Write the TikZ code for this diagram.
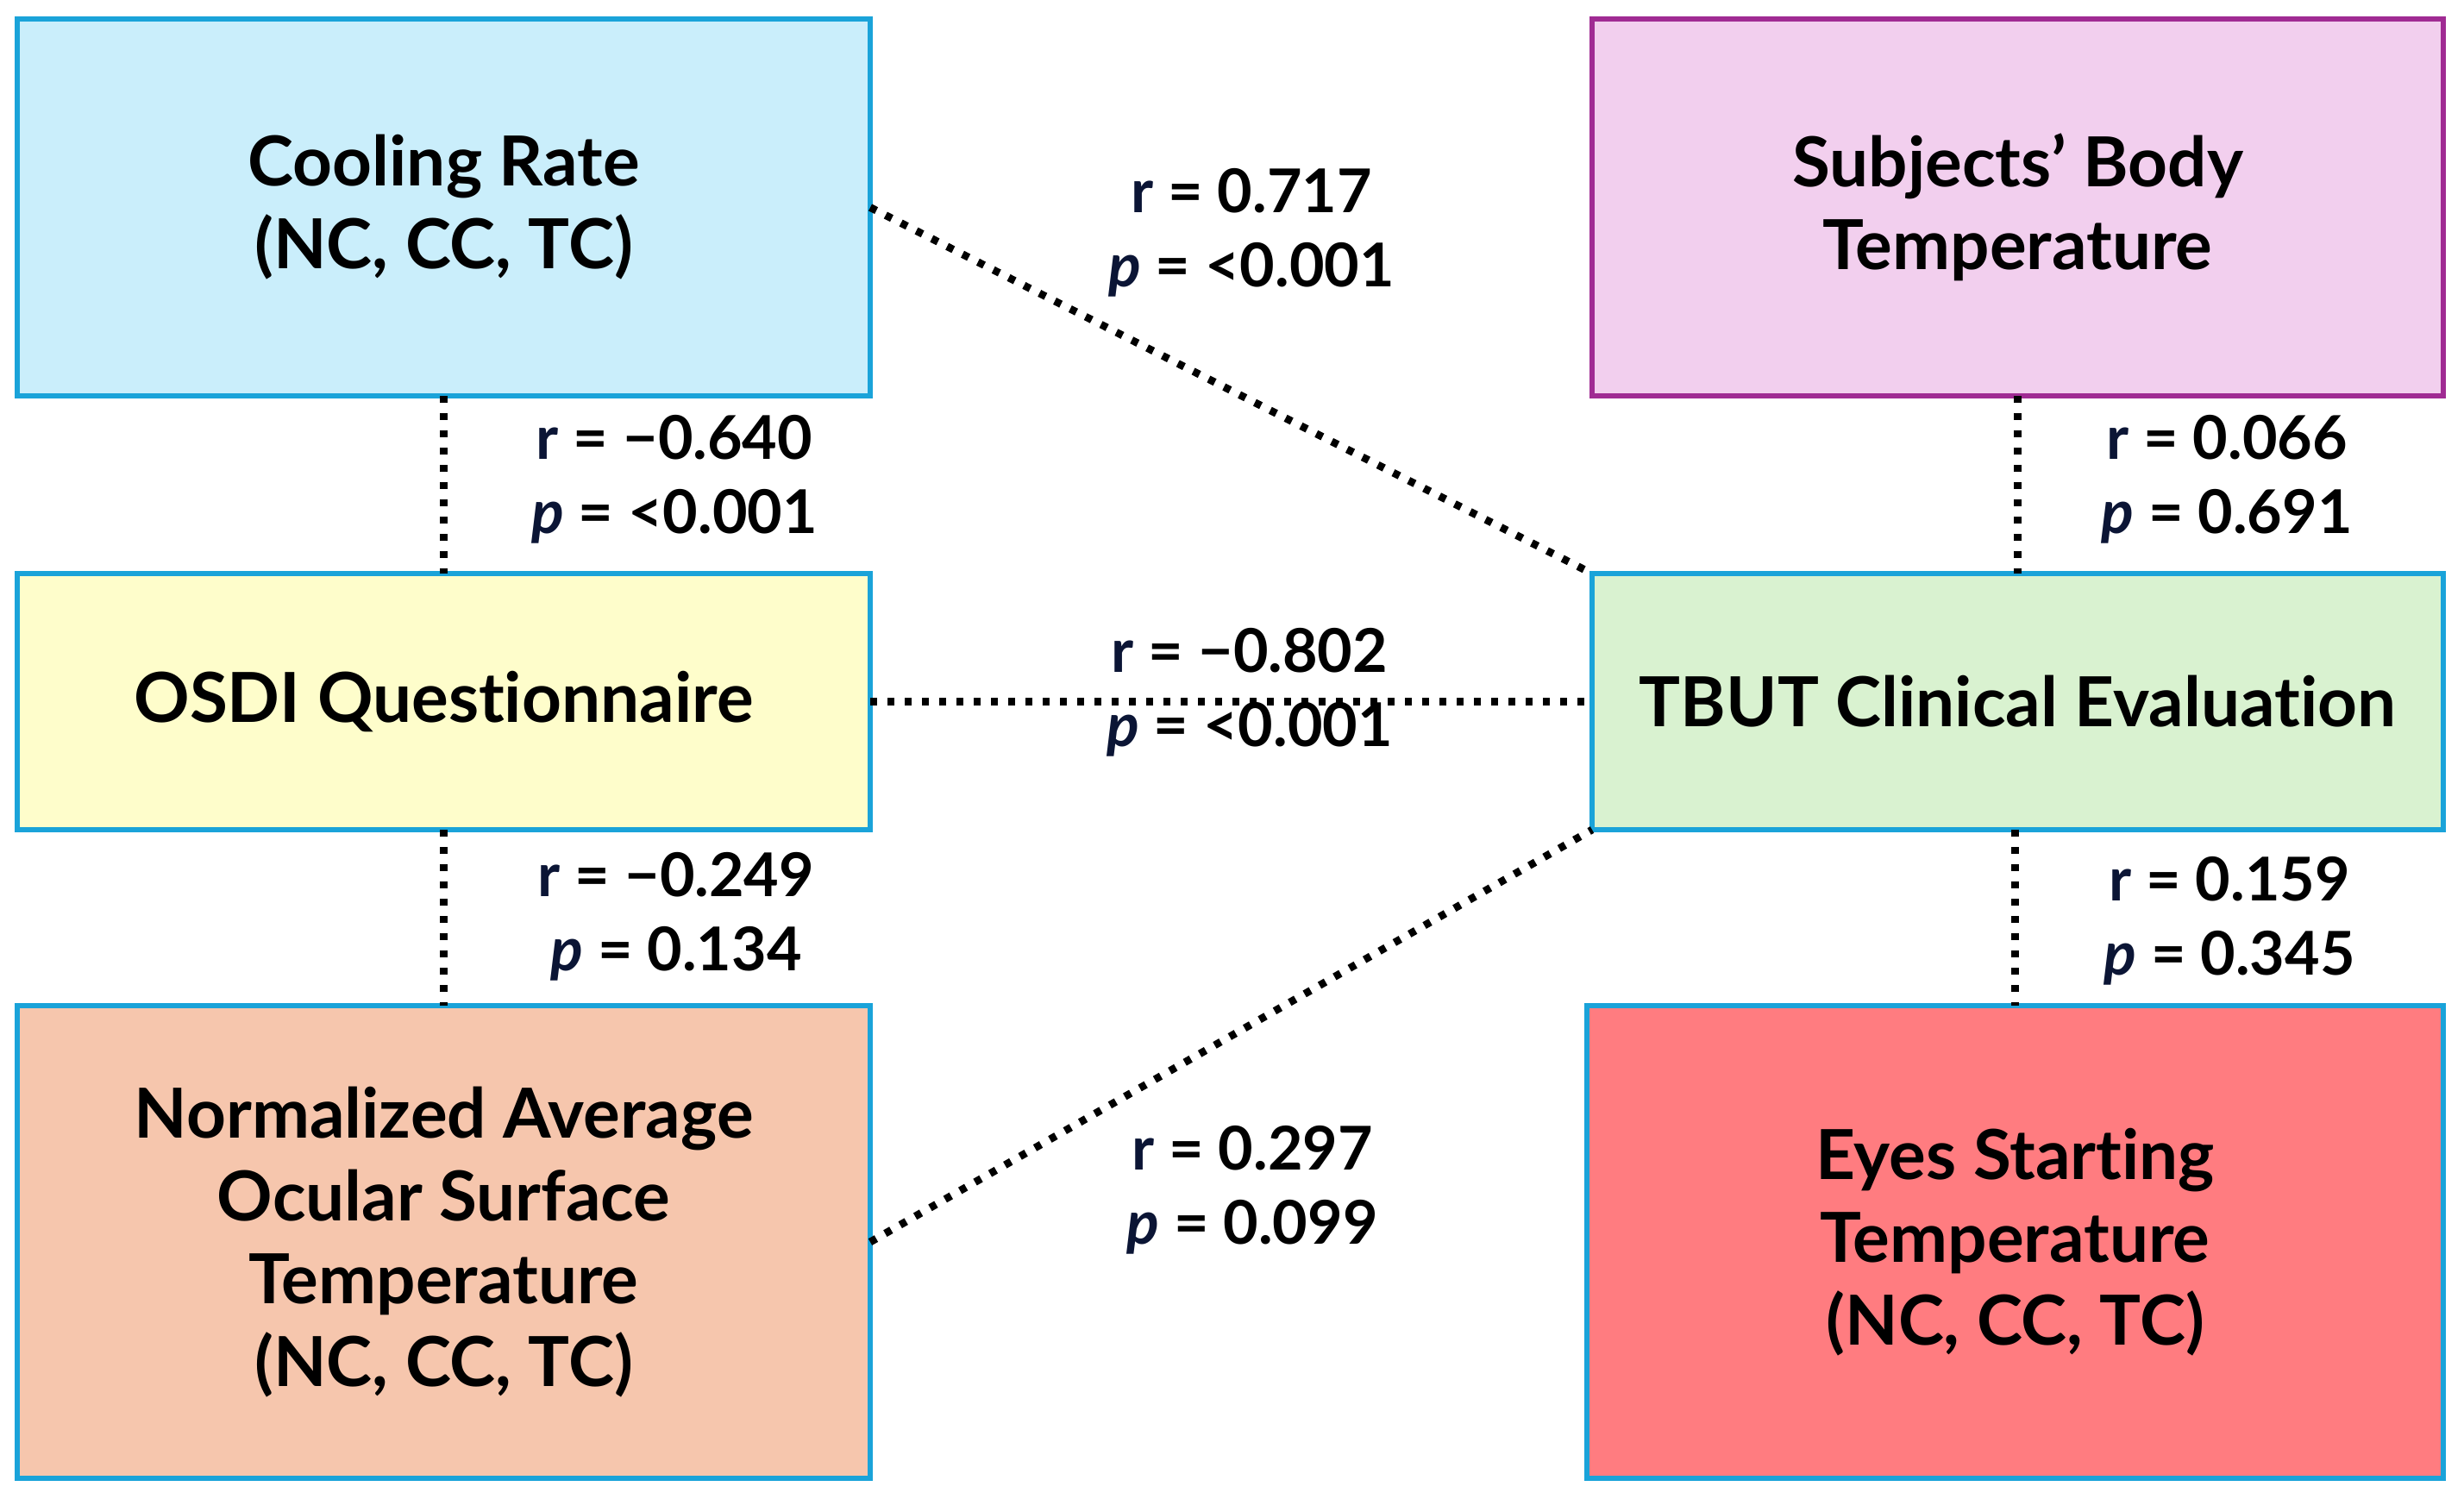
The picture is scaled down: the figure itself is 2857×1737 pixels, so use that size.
\documentclass[tikz,border=0pt]{standalone}
\usepackage{fontspec}
\setmainfont{Lato}[Ligatures=NoCommon]
\definecolor{bblue}{HTML}{1AA3D9}
\definecolor{bpurple}{HTML}{A02B93}
\definecolor{fcool}{HTML}{CAEEFB}
\definecolor{fsubj}{HTML}{F2CFEE}
\definecolor{fosdi}{HTML}{FEFDCB}
\definecolor{ftbut}{HTML}{D9F2D0}
\definecolor{fnorm}{HTML}{F6C6AD}
\definecolor{feyes}{HTML}{FF7C80}
\definecolor{navy}{HTML}{0B1535}
\newcommand{\rr}{{\color{navy}r}}
\newcommand{\pp}{{\color{navy}\itshape p}}
\tikzset{
  box/.style={draw=bblue, line width=1.6pt, rectangle, inner sep=0pt, outer sep=0pt,
    align=center, font=\fontsize{20}{24}\selectfont\bfseries},
  lab/.style={align=center, inner sep=0pt, font=\fontsize{17.5}{21.4}\selectfont\bfseries},
  conn/.style={line width=2.2pt, dash pattern=on 2pt off 3pt, black}
}
\begin{document}
\begin{tikzpicture}[x=0.25pt,y=-0.25pt]
\useasboundingbox (0,0) rectangle (2857,1737);
\node[box, fill=fcool, minimum width=247.25pt, minimum height=109.25pt] (cool) at (514.5,240.5) {Cooling Rate\\(NC, CC, TC)};
\node[box, fill=fsubj, draw=bpurple, minimum width=246.75pt, minimum height=109.25pt] (subj) at (2339.5,240.5) {Subjects’ Body\\Temperature};
\node[box, fill=fosdi, minimum width=247.25pt, minimum height=74.25pt] (osdi) at (514.5,813.5) {OSDI Questionnaire};
\node[box, fill=ftbut, minimum width=246.75pt, minimum height=74.25pt] (tbut) at (2339.5,813.5) {TBUT Clinical Evaluation};
\node[box, fill=fnorm, minimum width=247.25pt, minimum height=137pt] (norm) at (514.5,1440) {Normalized Average\\Ocular Surface\\Temperature\\(NC, CC, TC)};
\node[box, fill=feyes, minimum width=248.25pt, minimum height=137pt] (eyes) at (2336.5,1440) {Eyes Starting\\Temperature\\(NC, CC, TC)};

\draw[conn] (cool.south) -- (osdi.north);
\draw[conn] (osdi.south) -- (norm.north);
\draw[conn] (subj.south) -- (tbut.north);
\draw[conn] (tbut.south -| eyes.north) -- (eyes.north);
\draw[conn] (cool.east) -- (tbut.north west);
\draw[conn] (osdi.east) -- (tbut.west);
\draw[conn] (norm.east) -- (tbut.south west);

\node[lab] (l1) at (1451,270) {\rr{} = 0.717\\\pp{} = <0.001};
\node[lab] (l2) at (782,556) {\rr{} = −0.640\\\pp{} = <0.001};
\node[lab] (l3) at (1449,803) {\rr{} = −0.802\\\pp{} = <0.001};
\node[lab] (l4) at (784,1063) {\rr{} = −0.249\\\pp{} = 0.134};
\node[lab] (l5) at (1452,1380) {\rr{} = 0.297\\\pp{} = 0.099};
\node[lab] (l6) at (2582,556) {\rr{} = 0.066\\\pp{} = 0.691};
\node[lab] (l7) at (2585,1068) {\rr{} = 0.159\\\pp{} = 0.345};
\end{tikzpicture}
\end{document}
